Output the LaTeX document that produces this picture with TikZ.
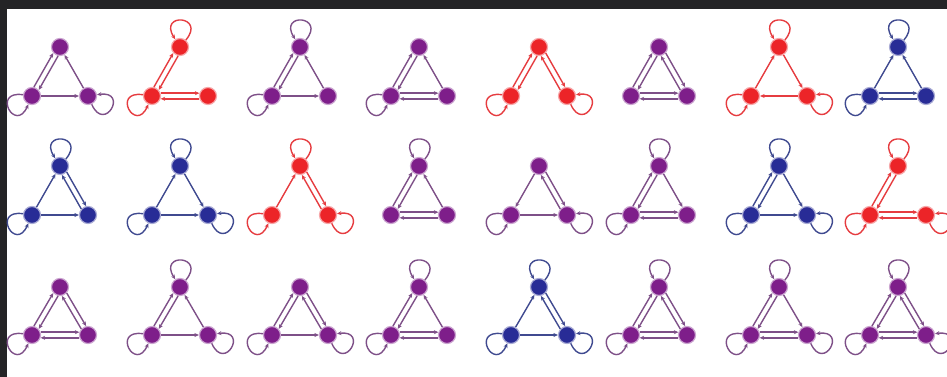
\documentclass[tikz,border=0pt]{standalone}
\usepackage{tikz}
\usetikzlibrary{arrows.meta}

\definecolor{mpurple}{RGB}{126,30,138}
\definecolor{mred}{RGB}{236,36,40}
\definecolor{mblue}{RGB}{40,44,150}
\definecolor{pedge}{RGB}{126,80,136}
\definecolor{redge}{RGB}{230,60,64}
\definecolor{bedge}{RGB}{64,74,144}
\definecolor{frame}{RGB}{36,36,38}

\begin{document}
\begin{tikzpicture}[x=1pt, y=1pt,
  every node/.style={circle, inner sep=0pt, minimum size=17pt, line width=1.2pt},
  pn/.style={fill=mpurple, draw=mpurple!40},
  rn/.style={fill=mred, draw=mred!40},
  bn/.style={fill=mblue, draw=mblue!40},
  pe/.style={draw=pedge, line width=1.4pt, -{Stealth[length=4.5pt,width=4pt]}},
  re/.style={draw=redge, line width=1.4pt, -{Stealth[length=4.5pt,width=4pt]}},
  be/.style={draw=bedge, line width=1.4pt, -{Stealth[length=4.5pt,width=4pt]}},
  tloop/.style={out=50, in=122, min distance=32pt},
  lloop/.style={out=172, in=246, min distance=32pt},
  rloop/.style={out=294, in=8, min distance=32pt}]
  \useasboundingbox (0,0) rectangle (947,-377);
  \fill[white] (0,0) rectangle (947,-377);
  \fill[frame] (0,0) rectangle (947,-9);
  \fill[frame] (0,0) rectangle (7,-377);

  \node[pn] (t1) at (60,-47) {};
  \node[pn] (l1) at (32,-96) {};
  \node[pn] (r1) at (88,-96) {};
  \draw[pe] (l1) to[lloop] (l1);
  \draw[pe] (r1) to[rloop] (r1);
  \draw[pe] (t1.258) -- (l1.42);
  \draw[pe] (l1.78) -- (t1.222);
  \draw[pe] (l1) -- (r1);
  \draw[pe] (r1) -- (t1);

  \node[rn] (t2) at (180,-47) {};
  \node[rn] (l2) at (152,-96) {};
  \node[rn] (r2) at (208,-96) {};
  \draw[re] (t2) to[tloop] (t2);
  \draw[re] (l2) to[lloop] (l2);
  \draw[re] (t2.258) -- (l2.42);
  \draw[re] (l2.78) -- (t2.222);
  \draw[re] (l2.18) -- (r2.162);
  \draw[re] (r2.198) -- (l2.342);

  \node[pn] (t3) at (300,-47) {};
  \node[pn] (l3) at (272,-96) {};
  \node[pn] (r3) at (328,-96) {};
  \draw[pe] (t3) to[tloop] (t3);
  \draw[pe] (l3) to[lloop] (l3);
  \draw[pe] (t3.258) -- (l3.42);
  \draw[pe] (l3.78) -- (t3.222);
  \draw[pe] (l3) -- (r3);
  \draw[pe] (r3) -- (t3);

  \node[pn] (t4) at (419,-47) {};
  \node[pn] (l4) at (391,-96) {};
  \node[pn] (r4) at (447,-96) {};
  \draw[pe] (l4) to[lloop] (l4);
  \draw[pe] (t4.258) -- (l4.42);
  \draw[pe] (l4.78) -- (t4.222);
  \draw[pe] (l4.18) -- (r4.162);
  \draw[pe] (r4.198) -- (l4.342);
  \draw[pe] (r4) -- (t4);

  \node[rn] (t5) at (539,-47) {};
  \node[rn] (l5) at (511,-96) {};
  \node[rn] (r5) at (567,-96) {};
  \draw[re] (l5) to[lloop] (l5);
  \draw[re] (r5) to[rloop] (r5);
  \draw[re] (t5.258) -- (l5.42);
  \draw[re] (l5.78) -- (t5.222);
  \draw[re] (t5.318) -- (r5.102);
  \draw[re] (r5.138) -- (t5.282);

  \node[pn] (t6) at (659,-47) {};
  \node[pn] (l6) at (631,-96) {};
  \node[pn] (r6) at (687,-96) {};
  \draw[pe] (t6.258) -- (l6.42);
  \draw[pe] (l6.78) -- (t6.222);
  \draw[pe] (t6.318) -- (r6.102);
  \draw[pe] (r6.138) -- (t6.282);
  \draw[pe] (l6.18) -- (r6.162);
  \draw[pe] (r6.198) -- (l6.342);

  \node[rn] (t7) at (779,-47) {};
  \node[rn] (l7) at (751,-96) {};
  \node[rn] (r7) at (807,-96) {};
  \draw[re] (t7) to[tloop] (t7);
  \draw[re] (l7) to[lloop] (l7);
  \draw[re] (r7) to[rloop] (r7);
  \draw[re] (l7) -- (t7);
  \draw[re] (t7) -- (r7);
  \draw[re] (r7) -- (l7);

  \node[bn] (t8) at (898,-47) {};
  \node[bn] (l8) at (870,-96) {};
  \node[bn] (r8) at (926,-96) {};
  \draw[be] (t8) to[tloop] (t8);
  \draw[be] (l8) to[lloop] (l8);
  \draw[be] (l8) -- (t8);
  \draw[be] (r8) -- (t8);
  \draw[be] (l8.18) -- (r8.162);
  \draw[be] (r8.198) -- (l8.342);

  \node[bn] (t9) at (60,-166) {};
  \node[bn] (l9) at (32,-215) {};
  \node[bn] (r9) at (88,-215) {};
  \draw[be] (t9) to[tloop] (t9);
  \draw[be] (l9) to[lloop] (l9);
  \draw[be] (l9) -- (t9);
  \draw[be] (t9.318) -- (r9.102);
  \draw[be] (r9.138) -- (t9.282);
  \draw[be] (l9) -- (r9);

  \node[bn] (t10) at (180,-166) {};
  \node[bn] (l10) at (152,-215) {};
  \node[bn] (r10) at (208,-215) {};
  \draw[be] (t10) to[tloop] (t10);
  \draw[be] (l10) to[lloop] (l10);
  \draw[be] (r10) to[rloop] (r10);
  \draw[be] (l10) -- (t10);
  \draw[be] (t10) -- (r10);
  \draw[be] (l10) -- (r10);

  \node[rn] (t11) at (300,-166) {};
  \node[rn] (l11) at (272,-215) {};
  \node[rn] (r11) at (328,-215) {};
  \draw[re] (t11) to[tloop] (t11);
  \draw[re] (l11) to[lloop] (l11);
  \draw[re] (r11) to[rloop] (r11);
  \draw[re] (l11) -- (t11);
  \draw[re] (t11.318) -- (r11.102);
  \draw[re] (r11.138) -- (t11.282);

  \node[pn] (t12) at (419,-166) {};
  \node[pn] (l12) at (391,-215) {};
  \node[pn] (r12) at (447,-215) {};
  \draw[pe] (t12) to[tloop] (t12);
  \draw[pe] (t12.258) -- (l12.42);
  \draw[pe] (l12.78) -- (t12.222);
  \draw[pe] (r12) -- (t12);
  \draw[pe] (l12.18) -- (r12.162);
  \draw[pe] (r12.198) -- (l12.342);

  \node[pn] (t13) at (539,-166) {};
  \node[pn] (l13) at (511,-215) {};
  \node[pn] (r13) at (567,-215) {};
  \draw[pe] (l13) to[lloop] (l13);
  \draw[pe] (r13) to[rloop] (r13);
  \draw[pe] (t13) -- (l13);
  \draw[pe] (t13.318) -- (r13.102);
  \draw[pe] (r13.138) -- (t13.282);
  \draw[pe] (l13) -- (r13);

  \node[pn] (t14) at (659,-166) {};
  \node[pn] (l14) at (631,-215) {};
  \node[pn] (r14) at (687,-215) {};
  \draw[pe] (t14) to[tloop] (t14);
  \draw[pe] (l14) to[lloop] (l14);
  \draw[pe] (t14.258) -- (l14.42);
  \draw[pe] (l14.78) -- (t14.222);
  \draw[pe] (t14) -- (r14);
  \draw[pe] (l14.18) -- (r14.162);
  \draw[pe] (r14.198) -- (l14.342);

  \node[bn] (t15) at (779,-166) {};
  \node[bn] (l15) at (751,-215) {};
  \node[bn] (r15) at (807,-215) {};
  \draw[be] (t15) to[tloop] (t15);
  \draw[be] (l15) to[lloop] (l15);
  \draw[be] (r15) to[rloop] (r15);
  \draw[be] (t15.258) -- (l15.42);
  \draw[be] (l15.78) -- (t15.222);
  \draw[be] (t15) -- (r15);
  \draw[be] (l15) -- (r15);

  \node[rn] (t16) at (898,-166) {};
  \node[rn] (l16) at (870,-215) {};
  \node[rn] (r16) at (926,-215) {};
  \draw[re] (t16) to[tloop] (t16);
  \draw[re] (l16) to[lloop] (l16);
  \draw[re] (r16) to[rloop] (r16);
  \draw[re] (t16.258) -- (l16.42);
  \draw[re] (l16.78) -- (t16.222);
  \draw[re] (l16.18) -- (r16.162);
  \draw[re] (r16.198) -- (l16.342);

  \node[pn] (t17) at (60,-287) {};
  \node[pn] (l17) at (32,-335) {};
  \node[pn] (r17) at (88,-335) {};
  \draw[pe] (l17) to[lloop] (l17);
  \draw[pe] (t17.258) -- (l17.42);
  \draw[pe] (l17.78) -- (t17.222);
  \draw[pe] (t17.318) -- (r17.102);
  \draw[pe] (r17.138) -- (t17.282);
  \draw[pe] (l17.18) -- (r17.162);
  \draw[pe] (r17.198) -- (l17.342);

  \node[pn] (t18) at (180,-287) {};
  \node[pn] (l18) at (152,-335) {};
  \node[pn] (r18) at (208,-335) {};
  \draw[pe] (t18) to[tloop] (t18);
  \draw[pe] (l18) to[lloop] (l18);
  \draw[pe] (r18) to[rloop] (r18);
  \draw[pe] (t18.258) -- (l18.42);
  \draw[pe] (l18.78) -- (t18.222);
  \draw[pe] (r18) -- (t18);
  \draw[pe] (l18) -- (r18);

  \node[pn] (t19) at (300,-287) {};
  \node[pn] (l19) at (272,-335) {};
  \node[pn] (r19) at (328,-335) {};
  \draw[pe] (l19) to[lloop] (l19);
  \draw[pe] (r19) to[rloop] (r19);
  \draw[pe] (t19.258) -- (l19.42);
  \draw[pe] (l19.78) -- (t19.222);
  \draw[pe] (t19.318) -- (r19.102);
  \draw[pe] (r19.138) -- (t19.282);
  \draw[pe] (l19) -- (r19);

  \node[pn] (t20) at (419,-287) {};
  \node[pn] (l20) at (391,-335) {};
  \node[pn] (r20) at (447,-335) {};
  \draw[pe] (t20) to[tloop] (t20);
  \draw[pe] (l20) to[lloop] (l20);
  \draw[pe] (t20.258) -- (l20.42);
  \draw[pe] (l20.78) -- (t20.222);
  \draw[pe] (r20) -- (t20);
  \draw[pe] (l20.18) -- (r20.162);
  \draw[pe] (r20.198) -- (l20.342);

  \node[bn] (t21) at (539,-287) {};
  \node[bn] (l21) at (511,-335) {};
  \node[bn] (r21) at (567,-335) {};
  \draw[be] (t21) to[tloop] (t21);
  \draw[be] (l21) to[lloop] (l21);
  \draw[be] (r21) to[rloop] (r21);
  \draw[be] (l21) -- (t21);
  \draw[be] (t21.318) -- (r21.102);
  \draw[be] (r21.138) -- (t21.282);
  \draw[be] (l21) -- (r21);

  \node[pn] (t22) at (659,-287) {};
  \node[pn] (l22) at (631,-335) {};
  \node[pn] (r22) at (687,-335) {};
  \draw[pe] (t22) to[tloop] (t22);
  \draw[pe] (l22) to[lloop] (l22);
  \draw[pe] (t22.258) -- (l22.42);
  \draw[pe] (l22.78) -- (t22.222);
  \draw[pe] (t22.318) -- (r22.102);
  \draw[pe] (r22.138) -- (t22.282);
  \draw[pe] (l22.18) -- (r22.162);
  \draw[pe] (r22.198) -- (l22.342);

  \node[pn] (t23) at (779,-287) {};
  \node[pn] (l23) at (751,-335) {};
  \node[pn] (r23) at (807,-335) {};
  \draw[pe] (t23) to[tloop] (t23);
  \draw[pe] (l23) to[lloop] (l23);
  \draw[pe] (r23) to[rloop] (r23);
  \draw[pe] (t23.258) -- (l23.42);
  \draw[pe] (l23.78) -- (t23.222);
  \draw[pe] (t23) -- (r23);
  \draw[pe] (l23.18) -- (r23.162);
  \draw[pe] (r23.198) -- (l23.342);

  \node[pn] (t24) at (898,-287) {};
  \node[pn] (l24) at (870,-335) {};
  \node[pn] (r24) at (926,-335) {};
  \draw[pe] (t24) to[tloop] (t24);
  \draw[pe] (l24) to[lloop] (l24);
  \draw[pe] (r24) to[rloop] (r24);
  \draw[pe] (t24.258) -- (l24.42);
  \draw[pe] (l24.78) -- (t24.222);
  \draw[pe] (t24.318) -- (r24.102);
  \draw[pe] (r24.138) -- (t24.282);
  \draw[pe] (l24.18) -- (r24.162);
  \draw[pe] (r24.198) -- (l24.342);
\end{tikzpicture}
\end{document}
